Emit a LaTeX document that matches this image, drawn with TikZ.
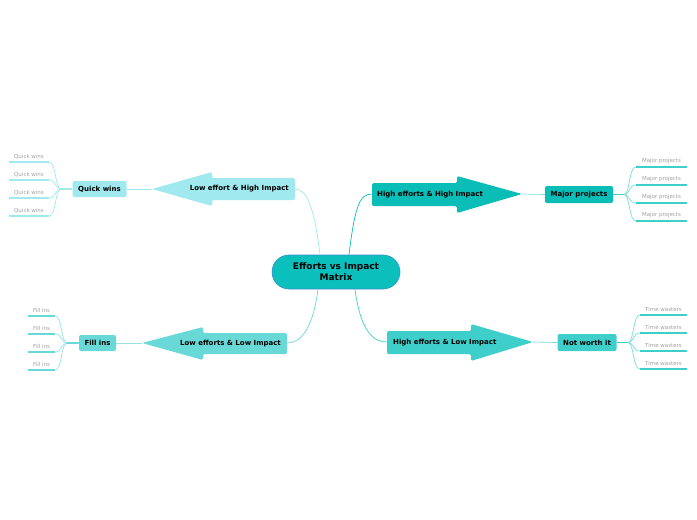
\documentclass[tikz,border=0pt]{standalone}
\usepackage{fontspec}
\setmainfont{DejaVu Sans}
\definecolor{cA}{HTML}{9FE9EF}
\definecolor{cB}{HTML}{0BBDB7}
\definecolor{cC}{HTML}{68D9D6}
\definecolor{cD}{HTML}{3ECFCA}
\definecolor{cCenter}{HTML}{0BBFBD}
\definecolor{cBorder}{HTML}{3A8FCF}
\definecolor{cLeaf}{HTML}{A0A0A0}
\begin{document}
\begin{tikzpicture}[x=1pt,y=-1pt,
  centerbox/.style={fill=cCenter,draw=cBorder,line width=0.6pt,rounded corners=17pt,minimum width=128pt,minimum height=34pt,align=center,inner sep=0pt,font=\fontsize{9}{11}\selectfont\bfseries},
  arrowtext/.style={inner sep=0pt,font=\fontsize{7}{8}\selectfont\bfseries},
  subbox/.style={rounded corners=2pt,inner sep=0pt,minimum height=16pt,font=\fontsize{7}{8}\selectfont\bfseries},
  leaf/.style={inner sep=0pt,minimum height=11pt,text=cLeaf,font=\fontsize{5.5}{6.5}\selectfont},
  conn/.style={line width=0.7pt},
  uline/.style={line width=1.2pt}]
\useasboundingbox (0,0) rectangle (697,520);

% arrows
\fill[cA,rounded corners=1.5pt] (295,178) -- (212,178) -- (212,172) -- (152,189) -- (212,206) -- (212,200) -- (295,200) -- cycle;
\fill[cB,rounded corners=1.5pt] (372,183) -- (457,183) -- (457,176) -- (522,194) -- (457,213) -- (457,206) -- (372,206) -- cycle;
\fill[cC,rounded corners=1.5pt] (287,333) -- (203,333) -- (203,327) -- (142,343) -- (203,360) -- (203,354) -- (287,354) -- cycle;
\fill[cD,rounded corners=1.5pt] (387,331) -- (471,331) -- (471,324) -- (533,342) -- (471,361) -- (471,354) -- (387,354) -- cycle;
\coordinate (a1tip) at (152,189); \coordinate (a1end) at (295,189);
\coordinate (a2tip) at (522,194); \coordinate (a2end) at (372,194);
\coordinate (a3tip) at (142,343); \coordinate (a3end) at (287,343);
\coordinate (a4tip) at (533,342); \coordinate (a4end) at (387,342);
\node[arrowtext,anchor=east] (t1) at (289,189) {Low effort \& High Impact};
\node[arrowtext,anchor=west] (t2) at (377,194.5) {High efforts \& High Impact};
\node[arrowtext,anchor=east] (t3) at (281,343.5) {Low efforts \& Low Impact};
\node[arrowtext,anchor=west] (t4) at (393,342.5) {High efforts \& Low Impact};

% center
\node[centerbox] (c) at (336,272) {Efforts vs Impact\\Matrix};
\draw[cA,conn] ([xshift=-16pt]c.north) .. controls +(-6,-50) and (306,189) .. (a1end);
\draw[cB,conn] ([xshift=13pt]c.north) .. controls +(6,-50) and (360,194) .. (a2end);
\draw[cC,conn] ([xshift=-18pt]c.south) .. controls +(-6,45) and (298,343) .. (a3end);
\draw[cD,conn] ([xshift=19pt]c.south) .. controls +(6,45) and (375,342) .. (a4end);

% sub nodes
\node[subbox,fill=cA,minimum width=54pt] (qw) at (99.5,189) {Quick wins};
\node[subbox,fill=cB,minimum width=68pt,minimum height=17pt] (mp) at (579,194.5) {Major projects};
\node[subbox,fill=cC,minimum width=37pt] (fi) at (97.5,343) {Fill ins};
\node[subbox,fill=cD,minimum width=59pt,minimum height=17pt] (nw) at (587,342.5) {Not worth it};
\draw[cA,conn] (qw.east) -- (a1tip);
\draw[cB!50,conn] (mp.west) -- (a2tip);
\draw[cC!70,conn] (fi.east) -- (a3tip);
\draw[cD!70,conn] (nw.west) -- (a4tip);

\coordinate (hqw) at (61,189);
\coordinate (hmp) at (624,194.5);
\coordinate (hfi) at (67,343);
\coordinate (hnw) at (628,342.5);
\draw[cA,uline] (hqw) -- (qw.west);
\draw[cD,uline] (hmp) -- (mp.east);
\draw[cC,uline] (hfi) -- (fi.west);
\draw[cD,uline] (hnw) -- (nw.east);

% leaves
\foreach \y [count=\i] in {162,180,198,216}{
  \node[leaf,minimum width=40pt,anchor=south] (qw\i) at (29,\y) {Quick wins};
  \draw[cA,uline] (qw\i.south west) -- (qw\i.south east);
  \draw[cA,conn] (qw\i.south east) .. controls +(7,0) and (55,189) .. (hqw);
}
\foreach \y [count=\i] in {167,185,203,221}{
  \node[leaf,minimum width=51pt,anchor=south] (mp\i) at (661.5,\y) {Major projects};
  \draw[cD,uline] (mp\i.south west) -- (mp\i.south east);
  \draw[cD!70,conn] (mp\i.south west) .. controls +(-7,0) and (630,194.5) .. (hmp);
}
\foreach \y [count=\i] in {316,334,352,370}{
  \node[leaf,minimum width=27pt,anchor=south] (fi\i) at (41.5,\y) {Fill ins};
  \draw[cC,uline] (fi\i.south west) -- (fi\i.south east);
  \draw[cC!70,conn] (fi\i.south east) .. controls +(7,0) and (61,343) .. (hfi);
}
\foreach \y [count=\i] in {315,333,351,369}{
  \node[leaf,minimum width=47pt,anchor=south] (tw\i) at (663.5,\y) {Time wasters};
  \draw[cD,uline] (tw\i.south west) -- (tw\i.south east);
  \draw[cD!70,conn] (tw\i.south west) .. controls +(-7,0) and (634,342.5) .. (hnw);
}
\end{tikzpicture}
\end{document}
